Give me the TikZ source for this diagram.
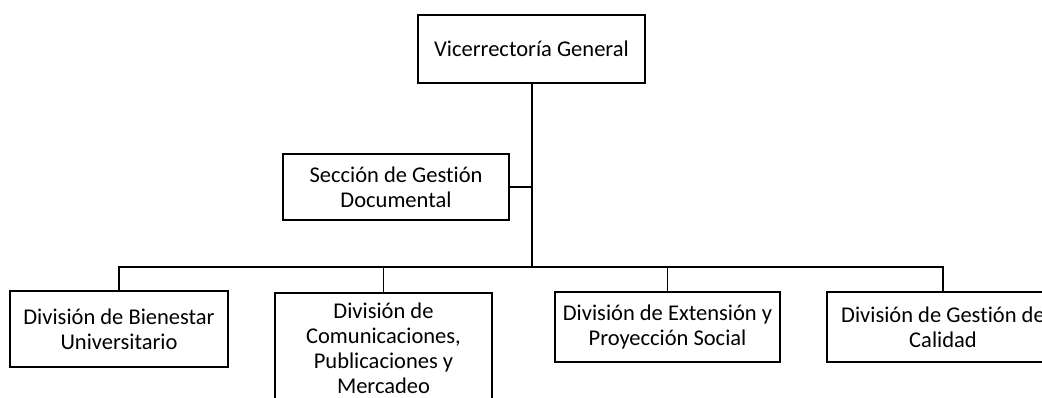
\documentclass[tikz,border=0pt]{standalone}
\usepackage{fontspec}
\setmainfont[Ligatures=NoCommon]{Carlito}
\begin{document}
\begin{tikzpicture}[x=1pt,y=-1pt,
  box/.style={draw=black, line width=1.6pt, fill=white, align=center, inner sep=0pt,
    font=\fontsize{22.5}{25}\selectfont},
  conn/.style={draw=black, line width=1.6pt}]
\useasboundingbox (0,0) rectangle (1042,398);
\clip (0,0) rectangle (1042,398);
\fill[white] (0,0) rectangle (1042,398);
\node[box, minimum width=227, minimum height=68] (vg) at (531.5,49) {Vicerrectoría General};
\node[box, minimum width=226, minimum height=66] (sg) at (396,187) {Sección de Gestión\\Documental};
\node[box, minimum width=218, minimum height=76] (b1) at (119,329) {División de Bienestar\\Universitario};
\node[box, minimum width=217, minimum height=110, anchor=north] (b2) at (383.5,292) {División de\\Comunicaciones,\\Publicaciones y\\Mercadeo};
\node[box, minimum width=225, minimum height=70] (b3) at (667.5,327) {División de Extensión y\\Proyección Social};
\node[box, minimum width=232, minimum height=70] (b4) at (943,327) {División de Gestión de\\Calidad};
\coordinate (hub) at (532,267);
\draw[conn] (vg.south -| hub) -- (hub);
\draw[conn] (sg.east) -- (sg.east -| hub);
\draw[conn] (b1.north) |- (hub);
\draw[conn] (b4.north) |- (hub);
\draw[conn] (b2.north) -- (b2.north |- hub);
\draw[conn] (b3.north) -- (b3.north |- hub);
\end{tikzpicture}
\end{document}
